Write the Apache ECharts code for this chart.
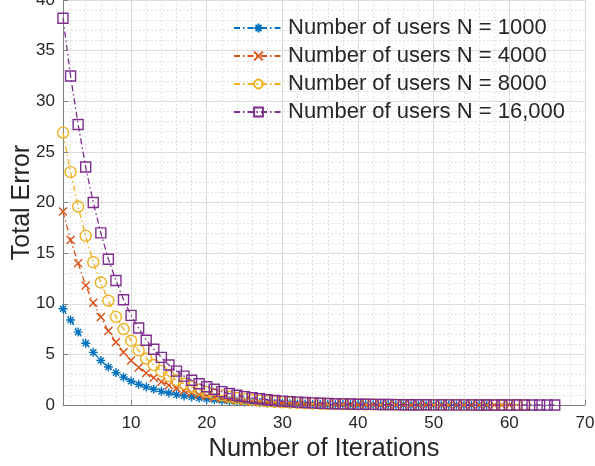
<!DOCTYPE html>
<html>
<head>
<meta charset="utf-8">
<script src="https://cdn.jsdelivr.net/npm/echarts@6/dist/echarts.min.js"></script>
<style>html,body{margin:0;padding:0;background:#fff}#c{width:595px;height:466px}</style>
</head>
<body>
<div id="c"></div>
<script>
var iterations = [];
for (var k = 1; k <= 70; k++) iterations.push(String(k));
var xTickLabels = ['10', '20', '30', '40', '50', '60', '70'];
var yTicks = [0, 5, 10, 15, 20, 25, 30, 35, 40];

var seriesNames = ['Number of users N = 1000', 'Number of users N = 4000', 'Number of users N = 8000', 'Number of users N = 16,000'];

var errN1000 = [9.5, 8.4, 7.2, 6.1, 5.2, 4.4, 3.75, 3.2, 2.75, 2.35,
  2.05, 1.78, 1.55, 1.35, 1.18, 1.03, 0.9, 0.79, 0.69, 0.6,
  0.52, 0.45, 0.39, 0.34, 0.3, 0.26, 0.22, 0.19, 0.17, 0.15,
  0.13, 0.11, 0.095, 0.08, 0.07, 0.06, 0.05, 0.045, 0.04, 0.035,
  0.03, 0.026, 0.022, 0.019, 0.016, 0.014, 0.012, 0.01, 0.009, 0.008,
  0.007, 0.006, 0.005, 0.004, 0.004, 0.003, 0.003];
var errN4000 = [19.1, 16.3, 14.0, 11.8, 10.1, 8.7, 7.3, 6.2, 5.2, 4.4,
  3.7, 3.15, 2.7, 2.3, 1.95, 1.65, 1.4, 1.2, 1.02, 0.87,
  0.74, 0.63, 0.54, 0.46, 0.39, 0.33, 0.28, 0.24, 0.2, 0.17,
  0.15, 0.13, 0.11, 0.09, 0.08, 0.07, 0.06, 0.05, 0.04, 0.035,
  0.03, 0.025, 0.02, 0.018, 0.015, 0.013, 0.011, 0.009, 0.008, 0.007,
  0.006, 0.005, 0.004, 0.004, 0.003, 0.003, 0.002, 0.002, 0.002, 0.001];
var errN8000 = [26.9, 23.0, 19.6, 16.7, 14.1, 12.1, 10.3, 8.7, 7.5, 6.35,
  5.4, 4.6, 3.95, 3.35, 2.85, 2.45, 2.1, 1.8, 1.52, 1.3,
  1.1, 0.95, 0.81, 0.69, 0.59, 0.5, 0.43, 0.37, 0.31, 0.27,
  0.23, 0.2, 0.17, 0.14, 0.12, 0.1, 0.09, 0.08, 0.07, 0.06,
  0.05, 0.043, 0.037, 0.031, 0.027, 0.023, 0.02, 0.017, 0.014, 0.012,
  0.01, 0.009, 0.008, 0.007, 0.006, 0.005, 0.004, 0.004, 0.003, 0.003,
  0.002, 0.002];
var errN16000 = [38.2, 32.5, 27.7, 23.5, 20.0, 17.0, 14.4, 12.3, 10.4, 8.85,
  7.6, 6.4, 5.5, 4.7, 3.95, 3.35, 2.85, 2.45, 2.1, 1.8,
  1.55, 1.32, 1.13, 0.97, 0.83, 0.71, 0.61, 0.52, 0.45, 0.38,
  0.33, 0.28, 0.24, 0.21, 0.18, 0.15, 0.13, 0.11, 0.095, 0.08,
  0.07, 0.06, 0.05, 0.044, 0.038, 0.032, 0.028, 0.024, 0.02, 0.017,
  0.015, 0.013, 0.011, 0.009, 0.008, 0.007, 0.006, 0.005, 0.0045, 0.004,
  0.0035, 0.003, 0.0025, 0.002, 0.002, 0.0015];

var colors = ['#0072BD', '#D95319', '#EDB120', '#7E2F8E'];
var symbols = [
  'path://M5,0L5,10M0,5L10,5M1.6,1.6L8.4,8.4M8.4,1.6L1.6,8.4',
  'path://M0,0L10,10M10,0L0,10',
  'circle',
  'rect'
];
var symbolSizes = [9, 8, 11, 10];
var allData = [errN1000, errN4000, errN8000, errN16000];
var font = '"Liberation Sans", Arial, Helvetica, sans-serif';

var series = allData.map(function (d, i) {
  return {
    name: seriesNames[i],
    type: 'line',
    xAxisIndex: 0,
    data: d,
    symbol: symbols[i],
    symbolSize: symbolSizes[i],
    showAllSymbol: true,
    lineStyle: { color: colors[i], width: 1.3, type: [6, 3, 1.5, 3] },
    itemStyle: { color: 'rgba(0,0,0,0)', borderColor: colors[i], borderWidth: 1.4 },
    emphasis: { disabled: true },
    animation: false,
    z: 2 + i
  };
});

var chart = echarts.init(document.getElementById('c'), null, { renderer: 'canvas' });
chart.setOption({
  backgroundColor: '#ffffff',
  animation: false,
  grid: { left: 63, right: 10, top: 0, bottom: 61, containLabel: false, outerBoundsMode: 'none' },
  legend: {
    data: seriesNames,
    orient: 'vertical',
    left: 233,
    top: 17,
    padding: 0,
    itemWidth: 49,
    itemHeight: 11,
    itemGap: 6,
    textStyle: { fontFamily: font, fontSize: 22, color: '#262626' },
    backgroundColor: 'transparent',
    selectedMode: false
  },
  xAxis: [{
    type: 'category',
    data: iterations,
    boundaryGap: false,
    name: 'Number of Iterations',
    nameLocation: 'middle',
    nameGap: 31,
    nameMoveOverlap: false,
    nameTextStyle: { fontFamily: font, fontSize: 25.5, color: '#262626' },
    axisLine: { show: true, lineStyle: { color: '#808080', width: 1 } },
    axisTick: {
      show: true, inside: true, length: 5, lineStyle: { color: '#808080' },
      interval: function (idx, v) { return xTickLabels.indexOf(v) >= 0; }
    },
    axisLabel: {
      show: true, margin: 10, fontFamily: font, fontSize: 17, color: '#262626',
      interval: function (idx, v) { return xTickLabels.indexOf(v) >= 0; }
    },
    splitLine: {
      show: true,
      interval: function (idx, v) { return xTickLabels.indexOf(v) >= 0; },
      lineStyle: { color: '#dadada', width: 1 }
    }
  }, {
    type: 'category',
    data: iterations,
    boundaryGap: false,
    position: 'bottom',
    axisLine: { show: false },
    axisTick: { show: false },
    axisLabel: { show: false },
    splitLine: {
      show: true,
      interval: function (idx, v) { var n = Number(v); return n % 2 === 0 && n % 10 !== 0; },
      lineStyle: { color: '#e2e2e2', width: 1, type: [2, 2] }
    }
  }],
  yAxis: {
    type: 'value',
    min: yTicks[0],
    max: yTicks[yTicks.length - 1],
    interval: 5,
    name: 'Total Error',
    nameLocation: 'middle',
    nameGap: 28,
    nameMoveOverlap: false,
    nameTextStyle: { fontFamily: font, fontSize: 25, color: '#262626' },
    axisLine: { show: true, lineStyle: { color: '#808080', width: 1 } },
    axisTick: { show: true, inside: true, length: 5, lineStyle: { color: '#808080' } },
    axisLabel: { margin: 8, fontFamily: font, fontSize: 17, color: '#262626' },
    splitLine: { show: true, lineStyle: { color: '#dadada', width: 1 } },
    minorTick: { show: false, splitNumber: 5 },
    minorSplitLine: { show: true, lineStyle: { color: '#e2e2e2', width: 1, type: [2, 2] } }
  },
  series: series
});
</script>
</body>
</html>
